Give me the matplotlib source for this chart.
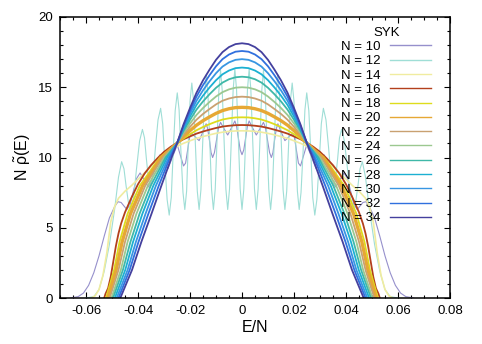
import numpy as np
import matplotlib
matplotlib.use("Agg")
import matplotlib.pyplot as plt
from matplotlib.ticker import MultipleLocator

plt.rcParams['font.family'] = ['Liberation Sans', 'DejaVu Sans']
plt.rcParams['mathtext.fontset'] = 'custom'
plt.rcParams['mathtext.rm'] = 'Liberation Sans'
plt.rcParams['mathtext.it'] = 'Liberation Sans'

# --- data (E/N, N*rho(E)) ---
E10 = [-0.066, -0.063, -0.061, -0.059, -0.057, -0.055, -0.053, -0.051, -0.049, -0.0477, -0.0465, -0.0454, -0.0443,
       -0.043, -0.0418, -0.0405, -0.0392, -0.0376, -0.036, -0.0349, -0.0338, -0.0326, -0.0315, -0.030, -0.0285,
       -0.0267, -0.0249, -0.0237, -0.0225, -0.0217, -0.0209, -0.0201, -0.0193, -0.0179, -0.0165, -0.0151, -0.0138,
       -0.0132, -0.0125, -0.0119, -0.0113, -0.0106, -0.0098, -0.0090, -0.00825, -0.0069, -0.0055, -0.0041,
       -0.00275, -0.0021, -0.0014, -0.0007, 0.0,
       0.0007, 0.0014, 0.0021, 0.00275, 0.0041, 0.0055, 0.0069, 0.00825, 0.0090, 0.0098, 0.0106, 0.0113,
       0.0119, 0.0125, 0.0132, 0.0138, 0.0151, 0.0165, 0.0179, 0.0193, 0.0201, 0.0209, 0.0217, 0.0225,
       0.0237, 0.0249, 0.0267, 0.0285, 0.030, 0.0315, 0.0326, 0.0338, 0.0349, 0.036, 0.0376, 0.0392,
       0.0405, 0.0418, 0.043, 0.0443, 0.0454, 0.0465, 0.0477, 0.049, 0.051, 0.053, 0.055, 0.057, 0.059,
       0.061, 0.063, 0.066]
R10 = [0.0, 0.1, 0.35, 0.9, 1.8, 3.0, 4.4, 5.7, 6.5, 6.85, 6.8, 6.55, 6.3,
       6.68, 7.6, 8.52, 8.9, 8.4, 7.9, 8.24, 9.05, 9.86, 10.2, 9.7, 9.2,
       10.05, 10.9, 10.15, 9.4, 9.6, 10.55, 11.5, 11.7, 11.45, 11.2, 11.8, 12.4,
       12.05, 11.2, 10.35, 10.0, 10.35, 11.25, 12.15, 12.5, 12.05, 11.6, 12.1,
       12.6, 12.25, 11.4, 10.55, 10.2,
       10.55, 11.4, 12.25, 12.6, 12.1, 11.6, 12.05, 12.5, 12.15, 11.25, 10.35, 10.0,
       10.35, 11.2, 12.05, 12.4, 11.8, 11.2, 11.45, 11.7, 11.5, 10.55, 9.6, 9.4,
       10.15, 10.9, 10.05, 9.2, 9.7, 10.2, 9.86, 9.05, 8.24, 7.9, 8.4, 8.9,
       8.52, 7.6, 6.68, 6.3, 6.55, 6.8, 6.85, 6.5, 5.7, 4.4, 3.0, 1.8, 0.9,
       0.35, 0.1, 0.0]

E12 = [-0.060, -0.057, -0.055, -0.053, -0.051, -0.049, -0.0475, -0.0463,
       -0.0454, -0.0446, -0.0437, -0.0428, -0.0417, -0.0406, -0.0394, -0.0383,
       -0.0375, -0.0368, -0.0360, -0.0352, -0.0342, -0.0333, -0.0323, -0.0313,
       -0.0305, -0.0297, -0.0288, -0.0280, -0.0272, -0.0265, -0.0257, -0.0249,
       -0.0242, -0.0235, -0.0227, -0.0220, -0.0213, -0.0207, -0.0200, -0.0193,
       -0.0186, -0.0179, -0.0172, -0.0165, -0.0158, -0.0151, -0.0144, -0.01375,
       -0.0131, -0.0124, -0.0117, -0.0110, -0.0103, -0.0096, -0.0089, -0.00825,
       -0.0076, -0.0069, -0.0062, -0.0055, -0.0048, -0.0041, -0.0034, -0.00275,
       -0.0021, -0.0014, -0.0007, 0.0,
       0.0007, 0.0014, 0.0021, 0.00275, 0.0034, 0.0041, 0.0048, 0.0055,
       0.0062, 0.0069, 0.0076, 0.00825, 0.0089, 0.0096, 0.0103, 0.0110,
       0.0117, 0.0124, 0.0131, 0.01375, 0.0144, 0.0151, 0.0158, 0.0165,
       0.0172, 0.0179, 0.0186, 0.0193, 0.0200, 0.0207, 0.0213, 0.0220,
       0.0227, 0.0235, 0.0242, 0.0249, 0.0257, 0.0265, 0.0272, 0.0280,
       0.0288, 0.0297, 0.0305, 0.0313, 0.0323, 0.0333, 0.0342, 0.0352,
       0.0360, 0.0368, 0.0375, 0.0383, 0.0394, 0.0406, 0.0417, 0.0428,
       0.0437, 0.0446, 0.0454, 0.0463, 0.0475, 0.049, 0.051, 0.053, 0.055, 0.057, 0.060]
R12 = [0.0, 0.1, 0.6, 1.9, 3.8, 6.3, 8.6, 9.7,
       9.2, 8.0, 6.8, 6.3, 7.13, 9.15, 11.17, 12.0,
       11.4, 9.95, 8.5, 7.9, 8.72, 10.7, 12.68, 13.5,
       12.39, 9.7, 7.01, 5.9, 7.17, 10.25, 13.33, 14.6,
       13.39, 10.45, 7.51, 6.3, 7.61, 10.8, 13.99, 15.3,
       13.99, 10.8, 7.61, 6.3, 7.7, 11.1, 14.5, 15.9,
       14.5, 11.1, 7.7, 6.3, 7.75, 11.25, 14.75, 16.2,
       14.75, 11.25, 7.75, 6.3, 7.76, 11.3, 14.84, 16.3,
       14.84, 11.3, 7.76, 6.3,
       7.76, 11.3, 14.84, 16.3, 14.84, 11.3, 7.76, 6.3,
       7.75, 11.25, 14.75, 16.2, 14.75, 11.25, 7.75, 6.3,
       7.7, 11.1, 14.5, 15.9, 14.5, 11.1, 7.7, 6.3,
       7.61, 10.8, 13.99, 15.3, 13.99, 10.8, 7.61, 6.3,
       7.51, 10.45, 13.39, 14.6, 13.33, 10.25, 7.17, 5.9,
       7.01, 9.7, 12.39, 13.5, 12.68, 10.7, 8.72, 7.9,
       8.5, 9.95, 11.4, 12.0, 11.17, 9.15, 7.13, 6.3,
       6.8, 8.0, 9.2, 9.7, 8.6, 6.3, 3.8, 1.9, 0.6, 0.1, 0.0]

E14 = [-0.058, -0.0565, -0.055, -0.0535, -0.052, -0.0505, -0.049, -0.0475, -0.045, -0.0425, -0.04,
       -0.0375, -0.035, -0.0325, -0.03, -0.0275, -0.025, -0.0225, -0.02, -0.0175, -0.015, -0.0125,
       -0.01, -0.0075, -0.005, -0.0025, 0.0, 0.0025, 0.005, 0.0075, 0.01, 0.0125, 0.015, 0.0175, 0.02,
       0.0225, 0.025, 0.0275, 0.03, 0.0325, 0.035, 0.0375, 0.04, 0.0425, 0.045, 0.0475, 0.049, 0.0505,
       0.052, 0.0535, 0.055, 0.0565, 0.058]
R14 = [0.0, 0.15, 0.6, 1.6, 3.2, 5.4, 6.5, 7.1, 7.6, 8.0, 8.45,
       8.9, 9.35, 9.75, 10.15, 10.5, 10.8, 11.01, 11.19, 11.36, 11.49, 11.61,
       11.72, 11.8, 11.86, 11.89, 11.9, 11.89, 11.86, 11.8, 11.72, 11.61, 11.49, 11.36, 11.19,
       11.01, 10.8, 10.5, 10.15, 9.75, 9.35, 8.9, 8.45, 8.0, 7.6, 7.1, 6.5, 5.4,
       3.2, 1.6, 0.6, 0.15, 0.0]

E16 = [-0.053, -0.0525, -0.0515, -0.0505, -0.0495, -0.0485, -0.0475, -0.0465, -0.045, -0.0425, -0.04,
       -0.0375, -0.035, -0.0325, -0.03, -0.0275, -0.025, -0.0225, -0.02, -0.0175, -0.015, -0.0125,
       -0.01, -0.0075, -0.005, -0.0025, 0.0, 0.0025, 0.005, 0.0075, 0.01, 0.0125, 0.015, 0.0175, 0.02,
       0.0225, 0.025, 0.0275, 0.03, 0.0325, 0.035, 0.0375, 0.04, 0.0425, 0.045, 0.0465, 0.0475, 0.0485,
       0.0495, 0.0505, 0.0515, 0.0525, 0.053]
R16 = [0.0, 0.3, 0.7, 1.5, 2.6, 3.7, 4.6, 5.3, 6.1, 7.15, 8.1,
       8.85, 9.45, 9.95, 10.4, 10.75, 11.05, 11.3, 11.5, 11.7, 11.85, 11.98,
       12.1, 12.2, 12.26, 12.3, 12.31, 12.3, 12.26, 12.2, 12.1, 11.98, 11.85, 11.7, 11.5,
       11.3, 11.05, 10.75, 10.4, 9.95, 9.45, 8.85, 8.1, 7.15, 6.1, 5.3, 4.6, 3.7,
       2.6, 1.5, 0.7, 0.3, 0.0]

# shared top grid for N >= 18 (flank points listed per curve)
ETOP = [-0.0225, -0.02, -0.0175, -0.015, -0.0125, -0.01, -0.0075, -0.005, -0.0025, 0.0,
        0.0025, 0.005, 0.0075, 0.01, 0.0125, 0.015, 0.0175, 0.02, 0.0225]

E18 = [-0.0523, -0.0492, -0.0471, -0.0440, -0.0393, -0.0316, -0.025] + ETOP + \
      [0.025, 0.0316, 0.0393, 0.0440, 0.0471, 0.0492, 0.0523]
R18 = [0, 2, 4, 6, 8, 10, 11.0, 11.35, 11.66, 11.94, 12.17, 12.37, 12.55, 12.7, 12.79, 12.85, 12.86,
       12.85, 12.79, 12.7, 12.55, 12.37, 12.17, 11.94, 11.66, 11.35, 11.0, 10, 8, 6, 4, 2, 0]

E20 = [-0.0516, -0.0484, -0.0461, -0.0429, -0.0382, -0.0311, -0.025] + ETOP + \
      [0.025, 0.0311, 0.0382, 0.0429, 0.0461, 0.0484, 0.0516]
R20 = [0, 2, 4, 6, 8, 10, 11.0, 11.49, 11.91, 12.3, 12.62, 12.89, 13.14, 13.34, 13.47, 13.55, 13.57,
       13.55, 13.47, 13.34, 13.14, 12.89, 12.62, 12.3, 11.91, 11.49, 11.0, 10, 8, 6, 4, 2, 0]

E22 = [-0.0509, -0.0475, -0.0450, -0.0417, -0.0372, -0.0305, -0.025] + ETOP + \
      [0.025, 0.0305, 0.0372, 0.0417, 0.0450, 0.0475, 0.0509]
R22 = [0, 2, 4, 6, 8, 10, 11.0, 11.63, 12.18, 12.69, 13.1, 13.45, 13.78, 14.04, 14.2, 14.3, 14.33,
       14.3, 14.2, 14.04, 13.78, 13.45, 13.1, 12.69, 12.18, 11.63, 11.0, 10, 8, 6, 4, 2, 0]

E24 = [-0.0502, -0.0466, -0.0440, -0.0406, -0.0362, -0.0299, -0.025] + ETOP + \
      [0.025, 0.0299, 0.0362, 0.0406, 0.0440, 0.0466, 0.0502]
R24 = [0, 2, 4, 6, 8, 10, 11.0, 11.76, 12.42, 13.03, 13.52, 13.95, 14.34, 14.65, 14.85, 14.97, 15.0,
       14.97, 14.85, 14.65, 14.34, 13.95, 13.52, 13.03, 12.42, 11.76, 11.0, 10, 8, 6, 4, 2, 0]

E26 = [-0.0496, -0.0458, -0.0429, -0.0394, -0.0351, -0.0294, -0.025] + ETOP + \
      [0.025, 0.0294, 0.0351, 0.0394, 0.0429, 0.0458, 0.0496]
R26 = [0, 2, 4, 6, 8, 10, 11.0, 11.9, 12.68, 13.41, 13.99, 14.5, 14.96, 15.33, 15.57, 15.71, 15.75,
       15.71, 15.57, 15.33, 14.96, 14.5, 13.99, 13.41, 12.68, 11.9, 11.0, 10, 8, 6, 4, 2, 0]

E28 = [-0.0489, -0.0449, -0.0419, -0.0383, -0.0341, -0.0288, -0.025] + ETOP + \
      [0.025, 0.0288, 0.0341, 0.0383, 0.0419, 0.0449, 0.0489]
R28 = [0, 2, 4, 6, 8, 10, 11.0, 12.03, 12.91, 13.74, 14.4, 14.98, 15.5, 15.92, 16.19, 16.36, 16.4,
       16.36, 16.19, 15.92, 15.5, 14.98, 14.4, 13.74, 12.91, 12.03, 11.0, 10, 8, 6, 4, 2, 0]

E30 = [-0.0482, -0.0440, -0.0408, -0.0371, -0.0331, -0.0282, -0.025] + ETOP + \
      [0.025, 0.0282, 0.0331, 0.0371, 0.0408, 0.0440, 0.0482]
R30 = [0, 2, 4, 6, 8, 10, 11.0, 12.14, 13.12, 14.04, 14.78, 15.42, 16.0, 16.47, 16.77, 16.95, 17.0,
       16.95, 16.77, 16.47, 16.0, 15.42, 14.78, 14.04, 13.12, 12.14, 11.0, 10, 8, 6, 4, 2, 0]

E32 = [-0.0475, -0.0432, -0.0398, -0.0360, -0.0320, -0.0277, -0.025] + ETOP + \
      [0.025, 0.0277, 0.0320, 0.0360, 0.0398, 0.0432, 0.0475]
R32 = [0, 2, 4, 6, 8, 10, 11.0, 12.25, 13.33, 14.34, 15.15, 15.85, 16.49, 17.0, 17.33, 17.53, 17.58,
       17.53, 17.33, 17.0, 16.49, 15.85, 15.15, 14.34, 13.33, 12.25, 11.0, 10, 8, 6, 4, 2, 0]

E34 = [-0.0468, -0.0423, -0.0387, -0.0348, -0.0310, -0.0271, -0.025] + ETOP + \
      [0.025, 0.0271, 0.0310, 0.0348, 0.0387, 0.0423, 0.0468]
R34 = [0, 2, 4, 6, 8, 10, 11.0, 12.35, 13.52, 14.61, 15.49, 16.25, 16.95, 17.5, 17.86, 18.07, 18.13,
       18.07, 17.86, 17.5, 16.95, 16.25, 15.49, 14.61, 13.52, 12.35, 11.0, 10, 8, 6, 4, 2, 0]

sizes = [10, 12, 14, 16, 18, 20, 22, 24, 26, 28, 30, 32, 34]
energies = [E10, E12, E14, E16, E18, E20, E22, E24, E26, E28, E30, E32, E34]
densities = [R10, R12, R14, R16, R18, R20, R22, R24, R26, R28, R30, R32, R34]
colors = ['#9690cc', '#9fded6', '#f0eca0', '#b3401c', '#dedc1c', '#e6a834',
          '#c9a171', '#9cc890', '#3fb8a8', '#1cb0d2', '#3896e2', '#3070de', '#44409e']
widths = [0.8, 0.8, 1.2, 1.3, 1.3, 2.4, 1.3, 1.3, 1.3, 1.3, 1.3, 1.3, 1.3]

fig = plt.figure(figsize=(4.82, 3.44), dpi=100)
ax = fig.add_axes([0.1245, 0.1337, 0.8091, 0.8169])

for n, e, r, c, w in zip(sizes, energies, densities, colors, widths):
    ax.plot(e, r, color=c, lw=w, label=f'N = {n}')

ax.set_xlim(-0.07, 0.08)
ax.set_ylim(0, 20)
ax.xaxis.set_minor_locator(MultipleLocator(0.005))
ax.yaxis.set_major_locator(MultipleLocator(5))
ax.yaxis.set_minor_locator(MultipleLocator(1))
ax.set_xticks([-0.06, -0.04, -0.02, 0, 0.02, 0.04, 0.06, 0.08])
ax.set_xticklabels(['-0.06', '-0.04', '-0.02', '0', '0.02', '0.04', '0.06', '0.08'])
ax.tick_params(which='both', direction='in', top=True, right=True, labelsize=9.5, width=0.8)
ax.tick_params(which='major', length=4.5, pad=5)
ax.tick_params(which='minor', length=2.2)
for s in ax.spines.values():
    s.set_linewidth(1.1)

ax.set_xlabel('E/N', fontsize=11.5, labelpad=2)
ax.set_ylabel(r'N $\tilde{\rho}$(E)', fontsize=11.5, labelpad=4)

leg = ax.legend(title='SYK', loc='upper right', bbox_to_anchor=(0.975, 0.998), frameon=False,
                markerfirst=False, fontsize=9.5, title_fontsize=9.5, handlelength=3.1,
                handletextpad=0.7, labelspacing=0.155, borderpad=0.2)
for h in leg.get_lines():
    h.set_linewidth(1.0)

fig.savefig('out.png', dpi=100)
